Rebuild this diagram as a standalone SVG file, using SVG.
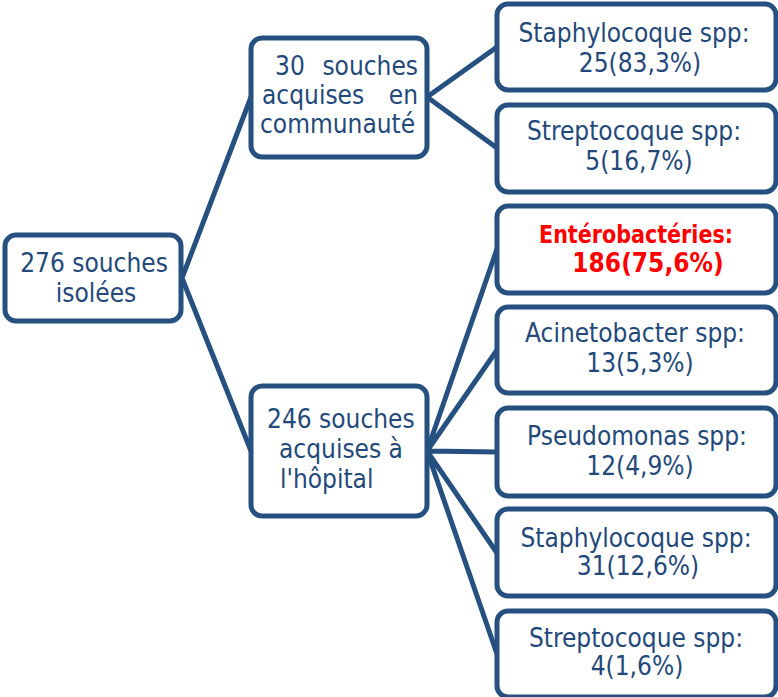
<svg xmlns="http://www.w3.org/2000/svg" width="778" height="697" viewBox="0 0 778 697">
<style>
.box{fill:#fff;stroke:#25507f;stroke-width:5}
.con{stroke:#25507f;stroke-width:5;fill:none;stroke-linecap:round}
text{font-family:"DejaVu Sans Condensed","DejaVu Sans",sans-serif;font-size:26px;fill:#23497a}
.c{text-anchor:middle}
.red{fill:#ff0000;font-weight:bold}
</style>
<g id="connectors">
<path class="con" d="M182,278 L251,97 M182,278 L251,451"/>
<path class="con" d="M427,97 L497,47 M427,97 L497,148"/>
<path class="con" d="M427,451 L497,249 M427,451 L497,350 M427,451 L497,452 M427,451 L497,553 M427,451 L497,654"/>
</g>
<g id="n_root">
<rect class="box" x="5" y="235" width="176" height="86" rx="11"/>
<text class="c" x="94" y="272">276 souches</text>
<text class="c" x="96" y="302">isolées</text>
</g>
<g id="n_comm">
<rect class="box" x="251" y="38" width="176" height="119" rx="11"/>
<text x="275" y="75">30</text><text x="418" y="75" text-anchor="end">souches</text>
<text x="262" y="104">acquises</text><text x="418" y="104" text-anchor="end">en</text>
<text x="260" y="133">communauté</text>
</g>
<g id="n_hosp">
<rect class="box" x="251" y="386" width="176" height="130" rx="11"/>
<text x="267" y="428">246 souches</text>
<text x="279" y="458">acquises à</text>
<text x="280" y="488">l'hôpital</text>
</g>
<g id="n_staph1">
<rect class="box" x="497" y="4" width="279" height="86" rx="11"/>
<text class="c" x="634" y="42">Staphylocoque spp:</text>
<text class="c" x="640" y="72">25(83,3%)</text>
</g>
<g id="n_strep1">
<rect class="box" x="497" y="105" width="279" height="87" rx="11"/>
<text class="c" x="634" y="140">Streptocoque spp:</text>
<text class="c" x="639" y="170">5(16,7%)</text>
</g>
<g id="n_entero">
<rect class="box" x="497" y="206" width="279" height="87" rx="11"/>
<text class="c red" x="636" y="243" style="font-size:25px" textLength="194" lengthAdjust="spacingAndGlyphs">Entérobactéries:</text>
<text class="c red" x="648" y="272">186(75,6%)</text>
</g>
<g id="n_acin">
<rect class="box" x="497" y="307" width="279" height="86" rx="11"/>
<text class="c" x="635" y="342">Acinetobacter spp:</text>
<text class="c" x="640" y="372">13(5,3%)</text>
</g>
<g id="n_pseudo">
<rect class="box" x="497" y="408" width="279" height="88" rx="11"/>
<text class="c" x="637" y="445">Pseudomonas spp:</text>
<text class="c" x="640" y="475">12(4,9%)</text>
</g>
<g id="n_staph2">
<rect class="box" x="497" y="509" width="279" height="87" rx="11"/>
<text class="c" x="636" y="547">Staphylocoque spp:</text>
<text class="c" x="638" y="575">31(12,6%)</text>
</g>
<g id="n_strep2">
<rect class="box" x="497" y="611" width="279" height="86" rx="11"/>
<text class="c" x="636" y="647">Streptocoque spp:</text>
<text class="c" x="637" y="675">4(1,6%)</text>
</g>
</svg>
